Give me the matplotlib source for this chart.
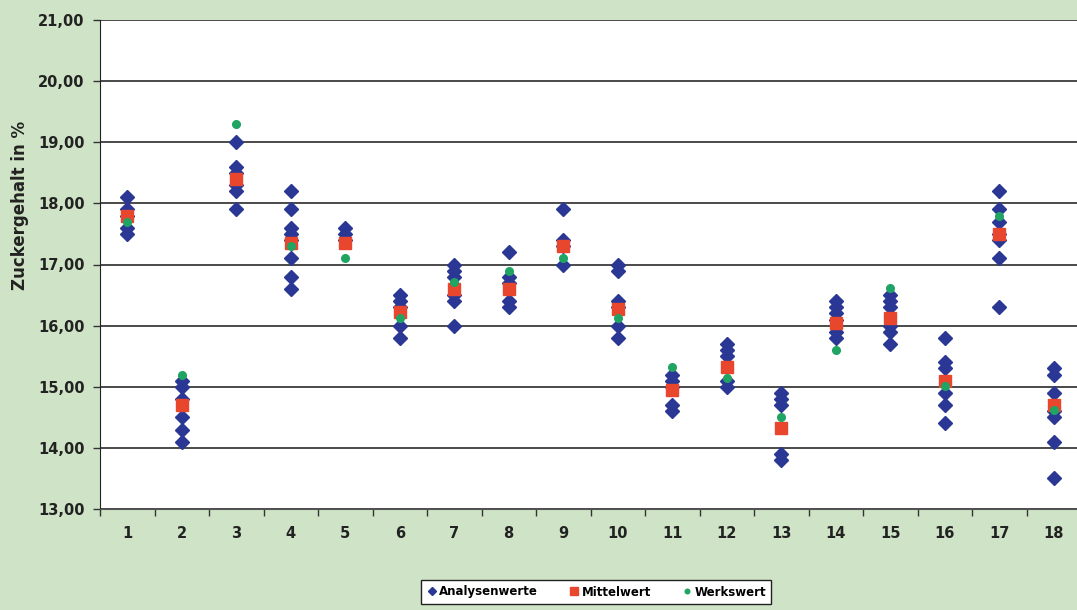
import matplotlib.pyplot as plt
import numpy as np
from matplotlib.ticker import FixedLocator, FuncFormatter

# Analysenwerte per sample (blue diamonds)
analysen = [
    [18.1, 17.9, 17.8, 17.6, 17.5],
    [15.1, 15.0, 14.8, 14.5, 14.3, 14.1],
    [19.0, 18.6, 18.5, 18.3, 18.2, 17.9],
    [18.2, 17.9, 17.6, 17.5, 17.4, 17.1, 16.8, 16.6],
    [17.6, 17.5, 17.4],
    [16.5, 16.4, 16.3, 16.0, 15.8],
    [17.0, 16.9, 16.8, 16.5, 16.4, 16.0],
    [17.2, 16.8, 16.7, 16.4, 16.3],
    [17.9, 17.4, 17.3, 17.0],
    [17.0, 16.9, 16.4, 16.3, 16.0, 15.8],
    [15.2, 15.1, 15.0, 14.7, 14.6],
    [15.7, 15.6, 15.5, 15.1, 15.0],
    [14.9, 14.8, 14.7, 13.9, 13.8],
    [16.4, 16.3, 16.2, 16.1, 15.9, 15.8],
    [16.5, 16.4, 16.3, 16.0, 15.9, 15.7],
    [15.8, 15.4, 15.3, 14.9, 14.7, 14.4],
    [18.2, 17.9, 17.7, 17.5, 17.4, 17.1, 16.3],
    [15.3, 15.2, 14.9, 14.6, 14.5, 14.1, 13.5],
]
mittelwert = [17.8, 14.7, 18.4, 17.35, 17.35, 16.22, 16.6, 16.6, 17.3,
              16.27, 14.95, 15.32, 14.32, 16.05, 16.12, 15.1, 17.5, 14.7]
werkswert = [17.7, 15.2, 19.3, 17.3, 17.1, 16.12, 16.72, 16.9, 17.1,
             16.12, 15.32, 15.15, 14.5, 15.6, 16.62, 15.02, 17.8, 14.62]
categories = [str(i) for i in range(1, 19)]

bg = "#cfe4c6"
blue = "#2b3794"
red = "#e8472e"
green = "#1fa463"

fig = plt.figure(figsize=(10.77, 6.10), dpi=100, facecolor=bg)
ax = fig.add_axes([100 / 1077, 1 - 509 / 610, 981 / 1077, 489 / 610])
ax.set_facecolor("white")

pos = np.arange(1, len(categories) + 1)
bx = np.concatenate([[p] * len(v) for p, v in zip(pos, analysen)])
by = np.concatenate(analysen)

ax.plot(bx, by, "D", color=blue, markersize=6.8, linestyle="none",
        label="Analysenwerte", zorder=3)
ax.plot(pos, mittelwert, "s", color=red, markersize=8.5, linestyle="none",
        label="Mittelwert", zorder=4)
ax.plot(pos, werkswert, "o", color=green, markersize=5.5, linestyle="none",
        label="Werkswert", zorder=5)

ax.set_xlim(0.5, len(categories) + 0.5)
ax.set_ylim(13, 21)
ax.set_yticks(np.arange(13, 22, 1))
ax.yaxis.set_major_formatter(FuncFormatter(lambda v, _: f"{v:.2f}".replace(".", ",")))
ax.grid(axis="y", color="#4a4a4a", linewidth=1.4, zorder=1)
ax.set_axisbelow(True)

# category labels at centres, tick marks at boundaries
ax.set_xticks(pos)
ax.set_xticklabels(categories)
ax.tick_params(axis="x", which="major", length=0, pad=12)
ax.xaxis.set_minor_locator(FixedLocator(np.arange(0.5, len(categories) + 1, 1)))
ax.tick_params(axis="x", which="minor", length=5, width=1, color="#333333")
ax.tick_params(axis="y", length=5, width=1, color="#333333", pad=6)

for lbl in ax.get_xticklabels() + ax.get_yticklabels():
    lbl.set_fontweight("bold")
    lbl.set_fontsize(10.5)
    lbl.set_color("#222222")

for side in ["top", "right"]:
    ax.spines[side].set_visible(False)
ax.spines["left"].set_color("#222222")
ax.spines["bottom"].set_color("#555555")

fig.text(20 / 1077, 1 - 205 / 610, "Zuckergehalt in %", rotation=90,
         ha="center", va="center", fontsize=12, fontweight="bold",
         color="#222222")

leg = fig.legend(loc="center", bbox_to_anchor=(596 / 1077, 1 - 592 / 610),
                 ncol=3, frameon=True, fancybox=False, edgecolor="#222222",
                 facecolor="white", framealpha=1.0,
                 prop={"weight": "bold", "size": 8.5}, handletextpad=0.1,
                 columnspacing=2.6, handlelength=1.0, borderpad=0.45,
                 markerscale=0.6)
leg.get_frame().set_linewidth(1.0)

fig.savefig("out.png", dpi=100, facecolor=bg)
